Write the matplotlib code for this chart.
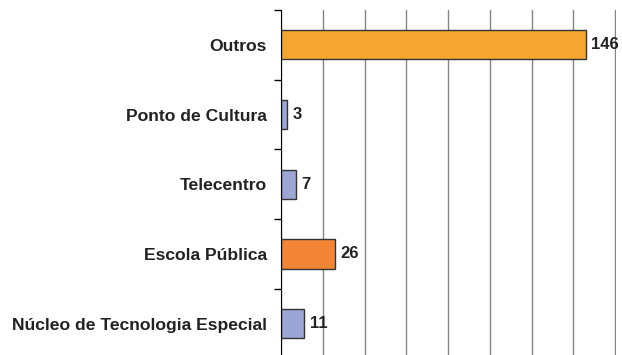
import numpy as np
import matplotlib
matplotlib.use("Agg")
import matplotlib.pyplot as plt

plt.rcParams["font.family"] = ["Liberation Sans", "DejaVu Sans"]

# categories listed bottom to top
categories = ["Núcleo de Tecnologia Especial", "Escola Pública", "Telecentro",
              "Ponto de Cultura", "Outros"]
values = [11, 26, 7, 3, 146]
colors = ["#9BA6D5", "#F28535", "#9BA6D5", "#9BA6D5", "#F4A630"]

fig = plt.figure(figsize=(6.22, 3.55), dpi=100)
ax = fig.add_axes([281 / 622, -3.5 / 355, 335 / 622, 348.5 / 355])

y = np.arange(len(categories))
ax.barh(y, values, height=0.42, color=colors, edgecolor="#333333", linewidth=1.0, zorder=3)

for yi, v in zip(y, values):
    ax.annotate(str(v), (v, yi), xytext=(4, 0), textcoords="offset points",
                va="center", ha="left", fontsize=12, fontweight="bold", color="#222222")

ax.set_xlim(0, 160.4)
ax.set_ylim(-0.5, len(categories) - 0.5)
ax.set_xticks(np.arange(0, 161, 20))
ax.xaxis.grid(True, color="#858585", linewidth=1.0, zorder=0)
ax.tick_params(axis="x", length=0, labelbottom=False)

ax.set_yticks(y)
ax.set_yticklabels(categories, fontsize=12.6, fontweight="bold", color="#222222")
ax.tick_params(axis="y", which="major", length=0, pad=10)
ax.set_yticks(np.arange(-0.5, len(categories), 1.0), minor=True)
ax.tick_params(axis="y", which="minor", length=5, width=1, color="black", direction="out")

for s in ["top", "right", "bottom"]:
    ax.spines[s].set_visible(False)
ax.spines["left"].set_color("black")
ax.spines["left"].set_zorder(4)

fig.savefig("out.png", dpi=100)
